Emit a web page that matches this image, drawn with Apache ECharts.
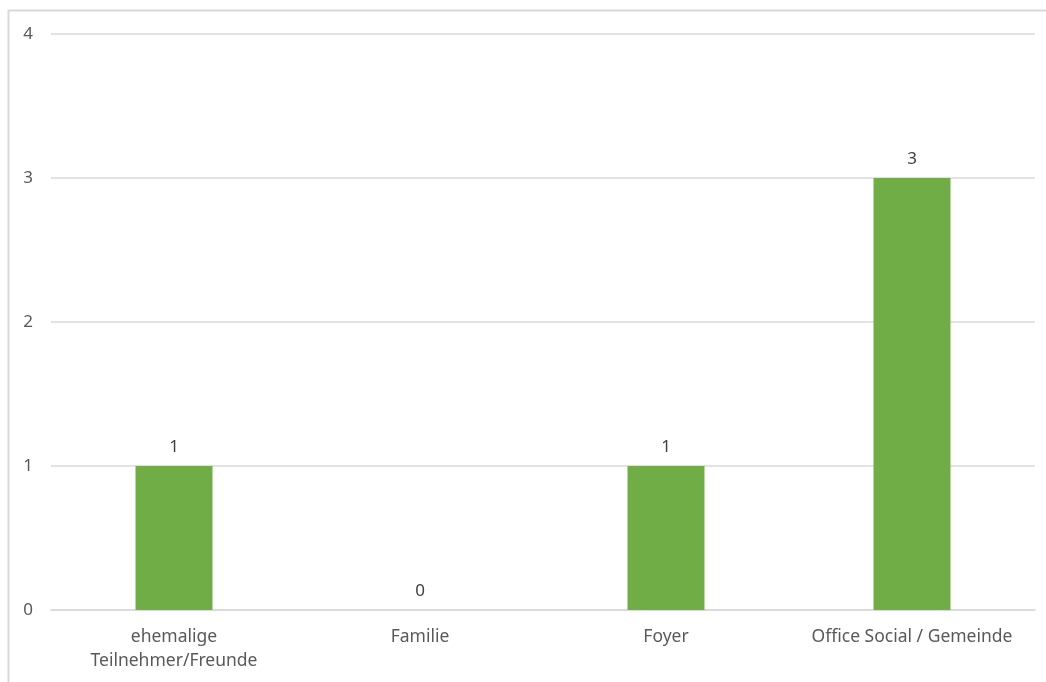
<!DOCTYPE html>
<html>
<head>
<meta charset="utf-8">
<script src="https://cdn.jsdelivr.net/npm/echarts@6/dist/echarts.min.js"></script>
<style>html,body{margin:0;padding:0;background:#fff}#c{width:1046px;height:682px}</style>
</head>
<body>
<div id="c"></div>
<script>
const categories = ["ehemalige\nTeilnehmer/Freunde", "Familie", "Foyer", "Office Social / Gemeinde"];
const values = [1, 0, 1, 3];
const yTicks = [0, 1, 2, 3, 4];

const chart = echarts.init(document.getElementById('c'), null, {renderer: 'canvas'});
const font = "Noto Sans";
chart.setOption({
  animation: false,
  graphic: [{
    type: 'rect', shape: {x: 8.5, y: 10.5, width: 1100, height: 700},
    style: {fill: 'none', stroke: '#d9d9d9', lineWidth: 2}, silent: true
  }],
  grid: {left: 51, right: 11, top: 34, bottom: 72, containLabel: false},
  xAxis: {
    type: 'category', data: categories,
    axisLine: {show: true, lineStyle: {color: '#d9d9d9', width: 1.5}},
    axisTick: {show: false},
    axisLabel: {interval: 0, hideOverlap: false, color: '#595959', fontFamily: font, fontSize: 17.5, lineHeight: 24, margin: 15}
  },
  yAxis: {
    type: 'value', min: yTicks[0], max: yTicks[yTicks.length - 1], interval: 1,
    axisLine: {show: false}, axisTick: {show: false},
    splitLine: {lineStyle: {color: '#d9d9d9', width: 1.5}},
    axisLabel: {color: '#595959', fontFamily: font, fontSize: 17, margin: 18}
  },
  series: [{
    type: 'bar', data: values, barWidth: 77,
    itemStyle: {color: '#70ad47'},
    label: {show: true, position: 'top', distance: 10, color: '#404040', fontFamily: font, fontSize: 17}
  }]
});
</script>
</body>
</html>
